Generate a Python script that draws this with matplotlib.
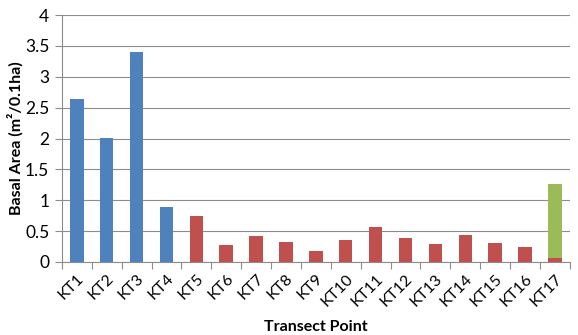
import matplotlib
matplotlib.use('Agg')
import matplotlib.pyplot as plt
import numpy as np

plt.rcParams['font.family'] = ['Lato', 'DejaVu Sans']

# Transektpunkte und Basalflaeche je Gruppe
points = ['KT%d' % i for i in range(1, 18)]
blue_vals = [2.64, 2.01, 3.40, 0.89, 0, 0, 0, 0, 0, 0, 0, 0, 0, 0, 0, 0, 0]
red_vals = [0, 0, 0, 0, 0.74, 0.27, 0.42, 0.32, 0.17, 0.36, 0.57, 0.39, 0.29, 0.44, 0.31, 0.24, 0.06]
green_vals = [0, 0, 0, 0, 0, 0, 0, 0, 0, 0, 0, 0, 0, 0, 0, 0, 1.20]

x = np.arange(len(points))
fig = plt.figure(figsize=(5.78, 3.35), dpi=100)
ax = fig.add_axes([0.107, 0.218, 0.879, 0.737])

w = 0.45
ax.bar(x, blue_vals, w, color='#4F81BD', zorder=3)
ax.bar(x, red_vals, w, color='#C0504D', zorder=3)
ax.bar(x, green_vals, w, bottom=red_vals, color='#9BBB59', zorder=3)

ax.set_xlim(-0.5, len(points) - 0.5)
ax.set_ylim(0, 4)
ax.set_yticks(np.arange(0, 4.01, 0.5))
ax.set_yticklabels(['0', '0.5', '1', '1.5', '2', '2.5', '3', '3.5', '4'])
ax.yaxis.grid(True, color='#8c8c8c', linewidth=0.8, zorder=0)

# Striche zwischen den Kategorien wie bei Excel
ax.set_xticks(np.arange(-0.5, len(points), 1.0))
ax.set_xticklabels([])
ax.set_xticks(x, minor=True)
ax.set_xticklabels(points, minor=True, rotation=45, ha='right', rotation_mode='anchor')
ax.tick_params(axis='x', which='major', length=5, color='#8c8c8c', direction='out')
ax.tick_params(axis='x', which='minor', length=0, labelsize=11.5, pad=7)
ax.tick_params(axis='y', length=5, color='#8c8c8c', labelsize=12.5, pad=4)

for s in ['top', 'right']:
    ax.spines[s].set_visible(False)
for s in ['left', 'bottom']:
    ax.spines[s].set_color('#8c8c8c')

ax.set_xlabel('Transect Point', fontsize=11.5, fontweight='bold')
ax.xaxis.set_label_coords(0.5, -0.235)
ax.set_ylabel('Basal Area (m²/0.1ha)', fontsize=11.5, fontweight='bold')
ax.yaxis.set_label_coords(-0.076, 0.5)

fig.savefig('out.png', dpi=100)
